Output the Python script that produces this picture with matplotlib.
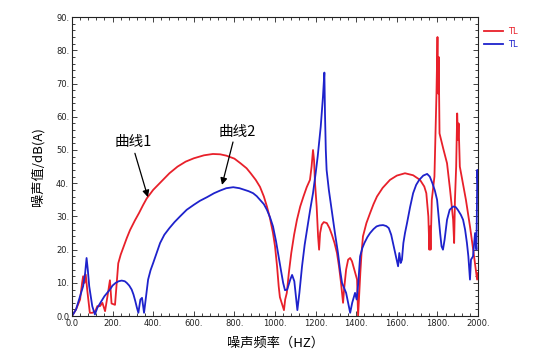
import matplotlib
matplotlib.use("Agg")
import matplotlib.pyplot as plt
from matplotlib.ticker import FuncFormatter, AutoMinorLocator

plt.rcParams['font.family'] = ['DejaVu Sans', 'Noto Sans CJK SC']

# Curve 1 (red, 曲线1)
red_f = [0, 20, 40, 50, 55, 62, 68, 75, 88, 100, 115, 125, 138, 150, 163, 175, 187, 195, 212,
         222, 228, 240, 255, 270, 286, 310, 330, 350, 368, 400, 448, 480, 520, 560, 600, 650,
         694, 730, 760, 800, 830, 860, 880, 905, 926, 945, 960, 975, 990, 1000, 1010, 1018,
         1024, 1044, 1050, 1058, 1068, 1080, 1094, 1108, 1124, 1140, 1156, 1172, 1180, 1187,
         1192, 1197, 1205, 1212, 1217, 1222, 1230, 1240, 1255, 1268, 1280, 1293, 1305, 1315,
         1325, 1330, 1335, 1340, 1350, 1360, 1370, 1379, 1395, 1404, 1407, 1409, 1414, 1420,
         1426, 1433, 1450, 1468, 1485, 1502, 1530, 1566, 1600, 1640, 1680, 1714, 1735, 1745,
         1755, 1760, 1763, 1766, 1772, 1785, 1795, 1800, 1803, 1806, 1810, 1828, 1847, 1862,
         1877, 1882, 1886, 1892, 1897, 1901, 1904, 1910, 1925, 1940, 1960, 1978, 1995, 2000]
red_db = [0, 2, 5, 10, 12, 10, 12.5, 8, 1, 1, 1.5, 3, 3, 4, 1.5, 6, 10.8, 3.8, 3.4,
          11, 15.9, 18.5, 21, 23.5, 25.9, 28.8, 31, 33.4, 35.4, 38, 41, 43, 45, 46.5, 47.5, 48.4,
          48.8, 48.7, 48.3, 47.4, 46, 44.5, 43, 41, 38.9, 36, 33, 29.5, 25, 21, 15, 9,
          5.7, 1.8, 5, 7, 13, 19, 24.5, 29, 33, 36, 38.8, 41, 45, 50,
          47, 40, 33, 24, 20, 25, 27.5, 28.3, 28, 26.5, 24.5, 22, 19, 15,
          10, 7, 4, 8, 14, 17, 17.5, 16.5, 13, 11, 4, 0, 6, 13,
          19, 24, 28, 31, 33.7, 36, 38.6, 41, 42.3, 43, 42.4, 41, 39, 37,
          30, 20, 27, 20, 35, 42, 67, 84, 67, 78, 55, 50.5, 46, 38,
          29, 22, 35, 45, 61, 53, 58, 45, 40, 35, 27, 19, 11, 13]

# Curve 2 (blue, 曲线2)
blue_f = [0, 20, 40, 55, 65, 72, 78, 85, 100, 113, 125, 140, 160, 187, 200, 215, 230, 245,
          260, 270, 282, 294, 303, 312, 320, 327, 337, 345, 355, 365, 375, 387, 400, 417, 434,
          455, 480, 505, 532, 565, 600, 630, 665, 700, 730, 760, 794, 825, 850, 870, 892, 910,
          926, 945, 960, 975, 990, 1005, 1020, 1030, 1040, 1049, 1060, 1075, 1084, 1095, 1103,
          1110, 1120, 1133, 1146, 1160, 1173, 1187, 1200, 1210, 1225, 1231, 1236, 1240, 1243,
          1246, 1250, 1254, 1265, 1281, 1295, 1310, 1320, 1330, 1340, 1350, 1360, 1370, 1380,
          1394, 1402, 1410, 1419, 1430, 1440, 1455, 1468, 1485, 1500, 1515, 1532, 1548, 1560,
          1572, 1581, 1595, 1606, 1612, 1619, 1625, 1632, 1640, 1650, 1665, 1680, 1695, 1710,
          1730, 1749, 1762, 1775, 1787, 1798, 1813, 1820, 1827, 1835, 1847, 1860, 1877, 1890,
          1900, 1915, 1926, 1936, 1945, 1952, 1960, 1965, 1975, 1985, 1992, 1996, 2000]
blue_db = [0, 2, 6, 9, 13, 17.5, 14, 9, 3, 0.5, 2.5, 4, 6, 8, 9.2, 10, 10.5, 10.7,
           10.5, 10, 9.2, 8, 6.5, 4.5, 2.5, 1, 5, 5.5, 1, 6, 11, 13.8, 16, 19, 22,
           24.5, 26.5, 28.3, 30, 32, 33.5, 34.7, 35.8, 37, 37.8, 38.5, 38.8, 38.5, 38, 37.6, 37, 36.1,
           35, 33.7, 32, 29.8, 27, 22.5, 17, 13.5, 10, 7.8, 8, 11, 12.4, 10.5, 6,
           1.8, 7, 15, 21.5, 27, 32, 37, 43, 48, 57, 62, 66, 70, 73.3,
           61, 50, 44, 38, 31, 25, 19, 14, 10, 8.5, 7, 4, 1, 4,
           7, 5, 10, 18, 20.5, 22, 23.8, 25, 26.2, 27, 27.3, 27.4, 27.1, 26.5,
           24.5, 22, 18, 15, 19, 16, 17, 22, 25, 28, 32.8, 37, 39.5, 41,
           42.3, 42.8, 42, 40, 37.8, 35, 25, 21, 20, 23, 29, 32, 33, 32.8,
           32, 30.5, 29, 26, 22, 18, 11, 17, 18, 25, 20, 44, 38]

x_ticks = [0, 200, 400, 600, 800, 1000, 1200, 1400, 1600, 1800, 2000]
y_ticks = [0, 10, 20, 30, 40, 50, 60, 70, 80, 90]

RED = '#e8202a'
BLUE = '#1e22cc'

fig = plt.figure(figsize=(5.33, 3.56), dpi=100)
ax = fig.add_axes([0.135, 0.112, 0.762, 0.840])

ax.plot(red_f, red_db, color=RED, lw=1.3, label='TL')
ax.plot(blue_f, blue_db, color=BLUE, lw=1.3, label='TL')

ax.set_xlim(0, 2000)
ax.set_ylim(0, 90)
ax.set_xticks(x_ticks)
ax.set_yticks(y_ticks)
fmt = FuncFormatter(lambda v, p: '0.0' if v == 0 else '%d.' % v)
ax.xaxis.set_major_formatter(fmt)
ax.yaxis.set_major_formatter(fmt)
ax.xaxis.set_minor_locator(AutoMinorLocator(5))
ax.yaxis.set_minor_locator(AutoMinorLocator(5))
ax.tick_params(which='both', direction='in', top=True, right=True, labelsize=6,
               colors='#222222', width=0.6, pad=2)
ax.tick_params(which='major', length=3.5)
ax.tick_params(which='minor', length=2)
for s in ax.spines.values():
    s.set_linewidth(0.8)
    s.set_color('#222222')

ax.set_xlabel('噪声频率（HZ）', fontsize=9.5, family=['Noto Sans CJK SC'], labelpad=6)
ax.set_ylabel('噪声值/dB(A)', fontsize=9.5, family=['Noto Sans CJK SC'], labelpad=8)

# annotations
ax.text(300, 52.4, '曲线1', fontsize=10.5, family=['Noto Sans CJK SC'], ha='center', va='center')
ax.annotate('', xy=(374, 35.8), xytext=(310, 49),
            arrowprops=dict(arrowstyle='-|>', color='black', lw=0.9, mutation_scale=10,
                            shrinkA=0, shrinkB=0))
ax.text(813, 55.4, '曲线2', fontsize=10.5, family=['Noto Sans CJK SC'], ha='center', va='center')
ax.annotate('', xy=(739, 39.5), xytext=(793, 52.4),
            arrowprops=dict(arrowstyle='-|>', color='black', lw=0.9, mutation_scale=10,
                            shrinkA=0, shrinkB=0))

leg = ax.legend(loc='upper left', bbox_to_anchor=(1.0, 0.985), frameon=False, fontsize=6,
                handlelength=2.3, labelcolor='linecolor', borderaxespad=0.3,
                labelspacing=0.45, handletextpad=0.6)

fig.savefig('out.png', dpi=100)
